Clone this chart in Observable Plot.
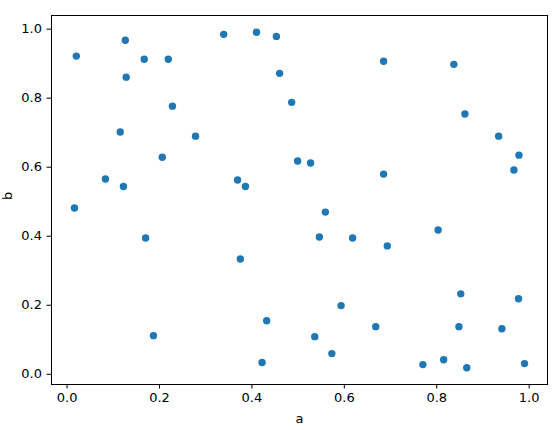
<!DOCTYPE html>
<html>
<head>
<meta charset="utf-8">
<script src="https://cdn.jsdelivr.net/npm/d3@7"></script>
<script src="https://cdn.jsdelivr.net/npm/@observablehq/plot@0.6"></script>
<style>
  html, body { margin: 0; padding: 0; background: #fff; }
  #chart svg { display: block; }
</style>
</head>
<body>
<div id="chart"></div>
<script>
const aValues = [0.020, 0.126, 0.128, 0.167, 0.219, 0.228, 0.115, 0.278, 0.206, 0.083,
                 0.122, 0.369, 0.386, 0.339, 0.410, 0.453, 0.460, 0.486, 0.685, 0.837,
                 0.861, 0.934, 0.978, 0.967, 0.499, 0.527, 0.685, 0.559, 0.016, 0.170,
                 0.375, 0.187, 0.432, 0.422, 0.546, 0.618, 0.693, 0.803, 0.852, 0.977,
                 0.593, 0.668, 0.848, 0.941, 0.536, 0.573, 0.770, 0.815, 0.865, 0.990];
const bValues = [0.922, 0.968, 0.861, 0.913, 0.913, 0.777, 0.702, 0.690, 0.629, 0.566,
                 0.544, 0.563, 0.544, 0.985, 0.991, 0.979, 0.872, 0.788, 0.907, 0.898,
                 0.754, 0.690, 0.635, 0.592, 0.618, 0.612, 0.580, 0.470, 0.482, 0.395,
                 0.334, 0.112, 0.155, 0.034, 0.398, 0.395, 0.372, 0.418, 0.233, 0.219,
                 0.199, 0.138, 0.138, 0.132, 0.109, 0.060, 0.028, 0.042, 0.019, 0.031];
const tickValues = [0, 0.2, 0.4, 0.6, 0.8, 1.0];
const xLabel = "a";
const yLabel = "b";

const data = aValues.map((a, i) => ({a, b: bValues[i]}));

const fontSize = "13px";
const chart = Plot.plot({
  width: 554,
  height: 430,
  marginLeft: 51,
  marginRight: 7,
  marginTop: 15,
  marginBottom: 46,
  style: {fontFamily: "DejaVu Sans", fontSize, color: "#000", background: "#fff"},
  x: {domain: [-0.0337, 1.0397]},
  y: {domain: [-0.0296, 1.0396]},
  marks: [
    Plot.axisX({ticks: tickValues, tickFormat: d3.format(".1f"), tickSize: 4.5, tickPadding: 4, label: null, fontSize}),
    Plot.axisY({ticks: tickValues, tickFormat: d3.format(".1f"), tickSize: 4.5, tickPadding: 5, label: null, fontSize}),
    Plot.dot(data, {x: "a", y: "b", r: 3.7, fill: "#1f77b4", stroke: "none"}),
    Plot.frame({stroke: "#000", strokeWidth: 1}),
    Plot.text([xLabel], {frameAnchor: "bottom", text: d => d, dy: 34, lineAnchor: "middle", fontSize: 13}),
    Plot.text([yLabel], {frameAnchor: "left", text: d => d, dx: -44, rotate: -90, lineAnchor: "middle", fontSize: 13})
  ]
});
document.getElementById("chart").append(chart);
</script>
</body>
</html>
